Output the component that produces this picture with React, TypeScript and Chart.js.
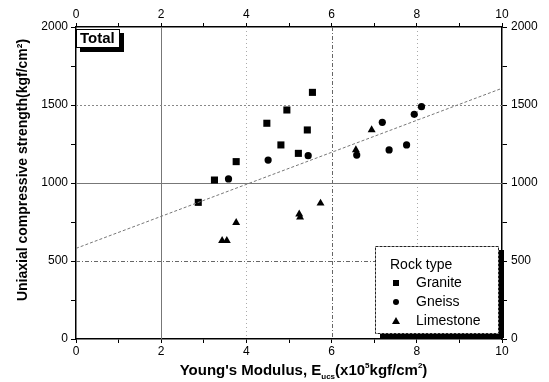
import React, { useEffect, useRef } from 'react';
import { Chart, registerables } from 'chart.js';

Chart.register(...registerables);

const graniteX = [2.87, 3.25, 3.76, 4.48, 4.81, 4.95, 5.22, 5.43, 5.55];
const graniteY = [876, 1019, 1137, 1383, 1244, 1468, 1190, 1340, 1581];
const gneissX = [3.58, 4.51, 5.45, 6.59, 7.19, 7.35, 7.76, 7.94, 8.11];
const gneissY = [1026, 1147, 1175, 1179, 1389, 1212, 1244, 1440, 1489];
const limestoneX = [3.43, 3.54, 3.76, 5.24, 5.26, 5.74, 6.57, 6.94];
const limestoneY = [630, 630, 746, 800, 780, 870, 1212, 1340];
const trendX = [0, 10];
const trendY = [581, 1607];

const seriesNames = ['Granite', 'Gneiss', 'Limestone'];
const legendTitle = 'Rock type';
const panelLabel = 'Total';
const yTitle = 'Uniaxial compressive strength(kgf/cm\u00B2)';

const FONT = 'Arial, "Liberation Sans", sans-serif';

const pts = (xs: number[], ys: number[]) => xs.map((x, i) => ({ x, y: ys[i] }));

const decorPlugin = {
  id: 'decor',
  beforeDatasetsDraw(chart: any) {
    const { ctx, chartArea: a, scales } = chart;
    const xs = scales.x;
    const ys = scales.y;
    ctx.save();
    ctx.beginPath();
    ctx.rect(a.left, a.top, a.right - a.left, a.bottom - a.top);
    ctx.clip();
    const vLines = [
      { v: 2, dash: [], color: '#777', w: 1 },
      { v: 4, dash: [1, 3], color: '#aaa', w: 1 },
      { v: 6, dash: [4, 2, 1, 2], color: '#666', w: 1 },
      { v: 8, dash: [1, 3], color: '#aaa', w: 1 },
    ];
    const hLines = [
      { v: 500, dash: [4, 2, 1, 2], color: '#666', w: 1 },
      { v: 1000, dash: [], color: '#777', w: 1 },
      { v: 1500, dash: [2, 2], color: '#888', w: 1 },
    ];
    vLines.forEach((l) => {
      const p = Math.round(xs.getPixelForValue(l.v)) + 0.5;
      ctx.setLineDash(l.dash);
      ctx.strokeStyle = l.color;
      ctx.lineWidth = l.w;
      ctx.beginPath();
      ctx.moveTo(p, a.top);
      ctx.lineTo(p, a.bottom);
      ctx.stroke();
    });
    hLines.forEach((l) => {
      const p = Math.round(ys.getPixelForValue(l.v)) + 0.5;
      ctx.setLineDash(l.dash);
      ctx.strokeStyle = l.color;
      ctx.lineWidth = l.w;
      ctx.beginPath();
      ctx.moveTo(a.left, p);
      ctx.lineTo(a.right, p);
      ctx.stroke();
    });
    ctx.restore();
  },
  afterDraw(chart: any) {
    const { ctx, chartArea: a } = chart;
    ctx.save();
    ctx.fillStyle = '#000';
    // Y title
    ctx.save();
    ctx.translate(23, 170);
    ctx.rotate(-Math.PI / 2);
    ctx.font = `bold 14px ${FONT}`;
    ctx.textAlign = 'center';
    ctx.textBaseline = 'middle';
    ctx.fillText(yTitle, 0, 0);
    ctx.restore();

    // X title with sub/superscripts
    const big = `bold 15px ${FONT}`;
    const small = `bold 8px ${FONT}`;
    const parts = [
      { t: "Young's Modulus, E", f: big, dy: 0 },
      { t: 'ucs', f: small, dy: 4 },
      { t: '(x10', f: big, dy: 0 },
      { t: '5', f: small, dy: -7 },
      { t: 'kgf/cm', f: big, dy: 0 },
      { t: '2', f: small, dy: -7 },
      { t: ')', f: big, dy: 0 },
    ];
    let total = 0;
    parts.forEach((p) => {
      ctx.font = p.f;
      total += ctx.measureText(p.t).width;
    });
    let x = 303.5 - total / 2;
    const base = 375;
    ctx.textAlign = 'left';
    ctx.textBaseline = 'alphabetic';
    parts.forEach((p) => {
      ctx.font = p.f;
      ctx.fillText(p.t, x, base + p.dy);
      x += ctx.measureText(p.t).width;
    });

    // Total label box
    const tx = a.left, ty = a.top + 2;
    ctx.fillStyle = '#000';
    ctx.fillRect(tx + 4, ty + 4, 44, 19);
    ctx.fillStyle = '#fff';
    ctx.fillRect(tx, ty, 44, 19);
    ctx.strokeStyle = '#000';
    ctx.lineWidth = 1;
    ctx.strokeRect(tx + 0.5, ty + 0.5, 43, 18);
    ctx.fillStyle = '#000';
    ctx.font = `bold 15px ${FONT}`;
    ctx.textBaseline = 'middle';
    ctx.fillText(panelLabel, tx + 4, ty + 10);

    // Legend
    const lx = 375, ly = 246, lw = 124, lh = 88;
    ctx.fillStyle = '#000';
    ctx.fillRect(lx + 5, ly + 4, lw, lh);
    ctx.fillStyle = '#fff';
    ctx.fillRect(lx, ly, lw, lh);
    ctx.strokeStyle = '#222';
    ctx.setLineDash([3, 1]);
    ctx.strokeRect(lx + 0.5, ly + 0.5, lw - 1, lh - 1);
    ctx.setLineDash([]);
    ctx.fillStyle = '#000';
    ctx.font = `14px ${FONT}`;
    ctx.textBaseline = 'middle';
    ctx.fillText(legendTitle, 390, 265);
    const rows = [283, 302, 321];
    seriesNames.forEach((n, i) => {
      const cy = rows[i];
      const cx = 396;
      ctx.beginPath();
      if (i === 0) ctx.rect(cx - 3, cy - 3, 6, 6);
      else if (i === 1) ctx.arc(cx, cy, 3, 0, Math.PI * 2);
      else {
        ctx.moveTo(cx, cy - 4);
        ctx.lineTo(cx + 4, cy + 3);
        ctx.lineTo(cx - 4, cy + 3);
        ctx.closePath();
      }
      ctx.fill();
      ctx.fillText(n, 416, cy);
    });
    ctx.restore();
  },
};

export default function App() {
  const ref = useRef<HTMLCanvasElement | null>(null);
  useEffect(() => {
    document.body.style.margin = '0';
    const tickFont = { family: FONT, size: 12 };
    const evenX = (v: any) => (Number(v) % 2 === 0 ? String(v) : '');
    const evenY = (v: any) => (Number(v) % 500 === 0 ? String(v) : '');
    const xCommon = {
      type: 'linear' as const,
      min: 0,
      max: 10,
      ticks: { stepSize: 1, autoSkip: false, callback: evenX, font: tickFont, color: '#000', maxRotation: 0 },
      grid: { drawOnChartArea: false, tickLength: 4, tickColor: '#000', tickWidth: 1 },
      border: { color: '#000', width: 1.5 },
    };
    const yCommon = {
      type: 'linear' as const,
      min: 0,
      max: 2000,
      ticks: { stepSize: 250, autoSkip: false, callback: evenY, font: tickFont, color: '#000' },
      grid: { drawOnChartArea: false, tickLength: 5, tickColor: '#000', tickWidth: 1 },
      border: { color: '#000', width: 1.5 },
    };
    const chart = new Chart(ref.current as HTMLCanvasElement, {
      type: 'scatter',
      data: {
        datasets: [
          {
            type: 'line',
            label: 'trend',
            data: pts(trendX, trendY),
            borderColor: '#777',
            borderWidth: 1,
            borderDash: [3, 2],
            pointRadius: 0,
            fill: false,
          } as any,
          {
            label: seriesNames[0],
            data: pts(graniteX, graniteY),
            pointStyle: 'rect',
            pointRadius: 5,
            backgroundColor: '#000',
            borderColor: '#000',
            borderWidth: 0,
          },
          {
            label: seriesNames[1],
            data: pts(gneissX, gneissY),
            pointStyle: 'circle',
            pointRadius: 3.6,
            backgroundColor: '#000',
            borderColor: '#000',
            borderWidth: 0,
          },
          {
            label: seriesNames[2],
            data: pts(limestoneX, limestoneY),
            pointStyle: 'triangle',
            pointRadius: 4.6,
            backgroundColor: '#000',
            borderColor: '#000',
            borderWidth: 0,
          },
        ],
      },
      options: {
        responsive: false,
        animation: false,
        layout: { padding: 0 },
        plugins: { legend: { display: false }, tooltip: { enabled: false }, title: { display: false } },
        scales: {
          x: { ...xCommon, position: 'bottom', ticks: { ...xCommon.ticks, padding: 1 }, afterFit: (s: any) => { s.height = 43; } },
          x2: { ...xCommon, axis: 'x', position: 'top', ticks: { ...xCommon.ticks, padding: 1 }, afterFit: (s: any) => { s.height = 27; } },
          y: { ...yCommon, position: 'left', ticks: { ...yCommon.ticks, padding: 3 }, afterFit: (s: any) => { s.width = 76; } },
          y2: { ...yCommon, axis: 'y', position: 'right', ticks: { ...yCommon.ticks, padding: 4 }, afterFit: (s: any) => { s.width = 47; } },
        } as any,
      },
      plugins: [decorPlugin],
    });
    return () => chart.destroy();
  }, []);
  return (
    <div style={{ position: 'fixed', left: 0, top: 0, width: 549, height: 382, background: '#fff' }}>
      <canvas ref={ref} width={549} height={382} style={{ width: 549, height: 382 }} />
    </div>
  );
}
